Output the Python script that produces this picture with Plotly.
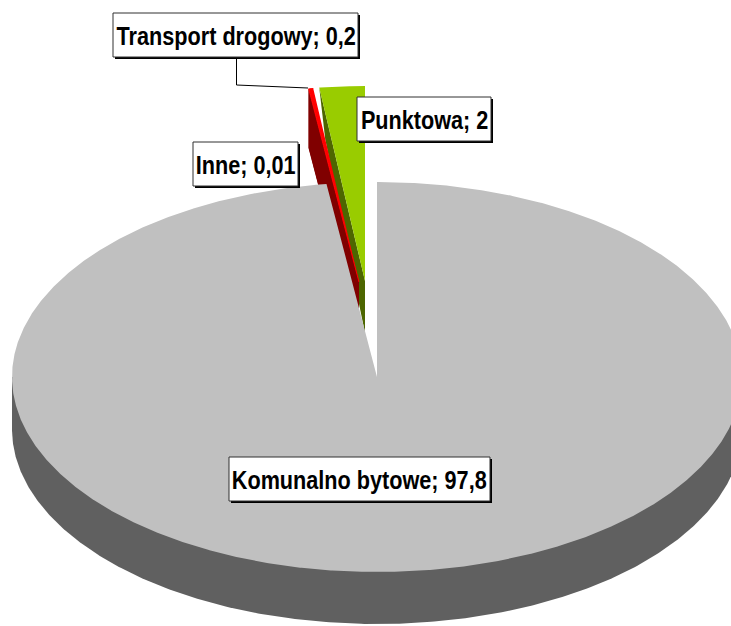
import numpy as np
import plotly.graph_objects as go

# ---- data ----
categories = ["Komunalno bytowe", "Inne", "Transport drogowy", "Punktowa"]
values = [97.8, 0.01, 0.2, 2]
value_labels = ["97,8", "0,01", "0,2", "2"]

# ---- styles / layout ----
W, H = 731, 626
CX, CY = 377, 377      # pie centre on the page
RX, RY = 365, 195      # projected radii
DEPTH = 52
top_colors = ["#C0C0C0", "#800000", "#FF0000", "#99CC00"]
wall_colors = ["#606060", "#800000", "#800000", "#4D6600"]
offsets = [(0, 0), (-18, -95), (-18, -95), (-12, -96)]   # exploded slices
wall_shift = [0, 0, 0, 6]
wall_depth = [DEPTH, 59, 59, 52]
edge_width = [0, 0, 1, 0]
boxes = {  # x0, y0, x1, y1
    "Komunalno bytowe": (229, 457, 490, 501),
    "Inne": (193, 142, 298, 186),
    "Transport drogowy": (113, 13, 358, 57),
    "Punktowa": (357, 97, 491, 141),
}
FONT = "Liberation Sans, Arial, sans-serif"
FONT_SIZE = 25
TEXT_SQUEEZE = 0.866   # the reference uses a condensed bold face

total = sum(values)
edges = np.cumsum([0] + values) / total * 2 * np.pi


def px(theta, ox=0, oy=0):
    return CX + ox + RX * np.sin(theta), CY + oy - RY * np.cos(theta)


fig = go.Figure()


def poly(xs, ys, color, width=0):
    fig.add_trace(go.Scatter(x=list(xs), y=list(ys), mode="lines", fill="toself",
                             fillcolor=color, line=dict(width=width, color=color),
                             hoverinfo="skip", showlegend=False))


# walls of exploded slices (behind their top faces)
for i in [3, 1, 2]:
    ox, oy = offsets[i]
    ax, ay = CX + ox, CY + oy
    cx, cy = px(edges[i], ox, oy)
    d = wall_depth[i]
    s = wall_shift[i]
    poly([cx, cx + s, ax, ax], [cy, cy + d, ay + d, ay], wall_colors[i])

# top faces of exploded slices
for i in [3, 1, 2]:
    ox, oy = offsets[i]
    t = np.linspace(edges[i], edges[i + 1], 40)
    x, y = px(t, ox, oy)
    poly(np.r_[CX + ox, x], np.r_[CY + oy, y], top_colors[i], edge_width[i])

# main slice: outer wall, then top face
t = np.linspace(np.pi / 2, 3 * np.pi / 2, 361)
x, y = px(t)
poly(np.r_[x[0], x, x[-1]], np.r_[CY, y + DEPTH, CY], wall_colors[0])
t = np.linspace(edges[0], edges[1], 1441)
x, y = px(t)
poly(np.r_[CX, x], np.r_[CY, y], top_colors[0])

shapes = []
annotations = []
for i, name in enumerate(categories):
    x0, y0, x1, y1 = boxes[name]
    shapes.append(dict(type="rect", xref="x", yref="y", x0=x0 + 2, y0=y0 + 2, x1=x1 + 2, y1=y1 + 2,
                       fillcolor="#000000", line=dict(width=0)))
    shapes.append(dict(type="rect", xref="x", yref="y", x0=x0, y0=y0, x1=x1, y1=y1,
                       fillcolor="#FFFFFF", line=dict(width=1, color="#303030")))
    annotations.append(dict(x=(x0 + x1) / 2, y=(y0 + y1) / 2 + 0.5, xref="x", yref="y",
                            text=f"<b>{name}; {value_labels[i]}</b>", showarrow=False,
                            font=dict(family=FONT, size=FONT_SIZE, color="#000000"),
                            xanchor="center", yanchor="middle"))
# leader line of the Transport drogowy label
shapes.append(dict(type="path", xref="x", yref="y", path="M 236.5 58 L 236.5 85 L 308 88",
                   line=dict(width=1, color="#000000")))

fig.update_layout(
    width=W, height=H, margin=dict(l=0, r=0, t=0, b=0),
    paper_bgcolor="#FFFFFF", plot_bgcolor="#FFFFFF", showlegend=False,
    xaxis=dict(range=[0, W], visible=False, fixedrange=True),
    yaxis=dict(range=[H, 0], visible=False, fixedrange=True),
    shapes=shapes, annotations=annotations,
)
squeeze_js = """
document.body.style.margin='0';document.body.style.overflow='hidden';
document.querySelectorAll('.annotation-text').forEach(function(t){
  var b=t.getBBox(), c=b.x+b.width/2;
  t.setAttribute('transform','translate('+c+',0) scale(%s,1) translate('+(-c)+',0)');
});
""" % TEXT_SQUEEZE
fig.write_html("out.html", config={"displayModeBar": False}, post_script=squeeze_js)
